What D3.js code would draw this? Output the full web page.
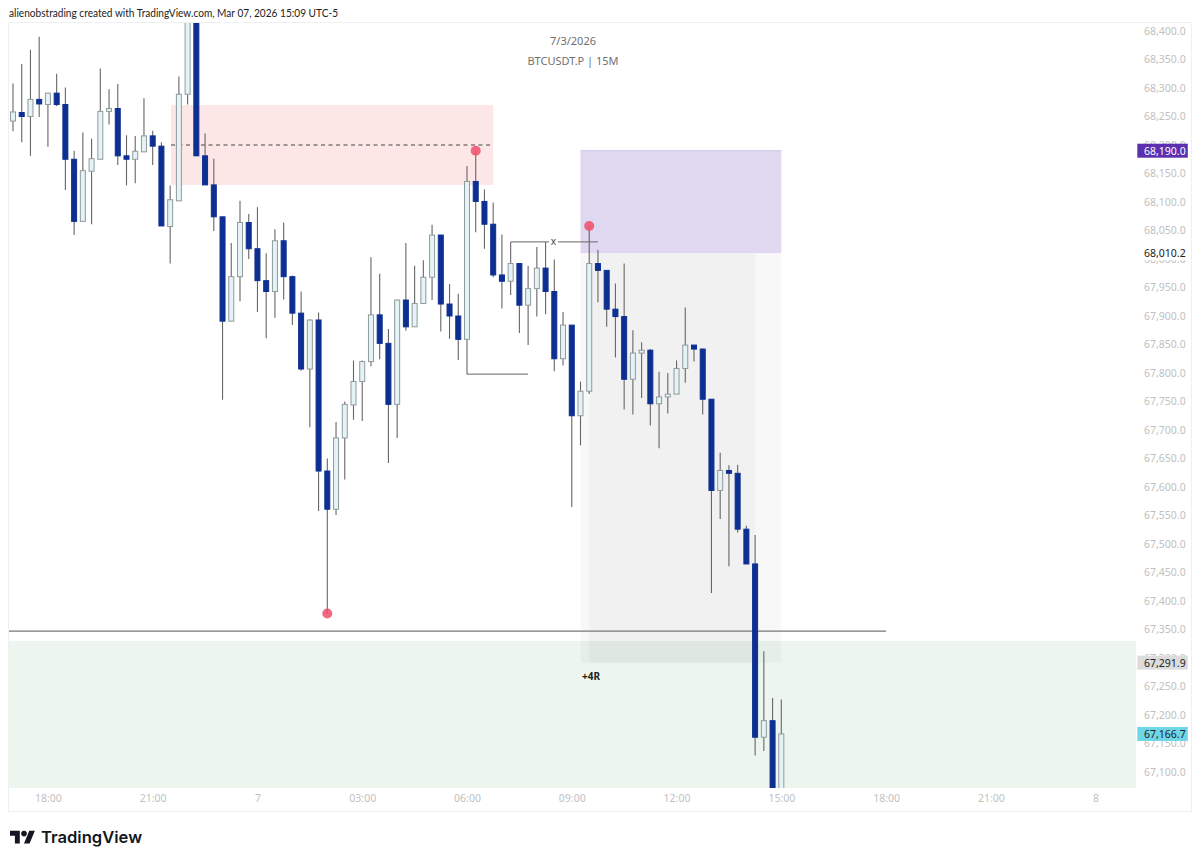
<!DOCTYPE html>
<html><head><meta charset="utf-8">
<script src="https://cdn.jsdelivr.net/npm/d3@7"></script>
<style>html,body{margin:0;padding:0;background:#fff}svg{display:block}</style></head>
<body><svg id="c" width="1200" height="862"></svg>
<script>
const opens =[68242,68257,68250,68280,68271,68291,68271,68175,68066,68154,68175,68259,68264,68181,68175,68188,68216,68198,68057,68102,68289,68470,68181,68130,68074,67891,67969,68064,68018,67962,67943,68032,67969,67905,67807,67893,67628,67561,67686,67744,67785,67820,67902,67852,67745,67928,67881,67922,67968,68042,67921,67900,67859,68136,68101,68061,67972,67961,67992,67919,67948,67984,67943,67825,67884,67725,67768,67992,67980,67912,67899,67789,67835,67840,67746,67758,67763,67808,67849,67842,67754,67594,67629,67624,67526,67465,67161,67190,67040];
const highs =[68308,68342,68367,68390,68291,68325,68301,68190,68222,68211,68334,68298,68307,68217,68216,68282,68225,68205,68129,68320,68500,68520,68220,68176,68074,68028,68102,68079,68091,68010,68052,68064,67971,67943,67894,67906,67650,67714,67750,67822,67822,68003,67974,67877,67929,68028,67988,67998,68060,68042,67956,67939,68163,68190,68122,68099,68043,68030,67992,67988,68021,68030,67999,67907,67884,67785,68058,68016,67980,67957,67992,67875,67854,67842,67802,67800,67822,67915,67849,67843,67754,67660,67638,67639,67532,67516,67312,67230,67227];
const lows  =[68224,68205,68181,68249,68197,68268,68121,68042,68066,68061,68175,68236,68165,68129,68133,68188,68165,68058,67992,68102,68271,68181,68130,68049,67753,67891,67926,68000,67907,67861,67897,67929,67884,67804,67705,67558,67378,67551,67613,67718,67716,67812,67824,67642,67686,67874,67881,67922,67928,67873,67860,67823,67798,68047,68018,67968,67913,67937,67870,67849,67899,67903,67803,67813,67565,67673,67763,67924,67881,67827,67736,67727,67756,67708,67668,67729,67763,67783,67820,67727,67414,67544,67461,67520,67465,67129,67137,67020,67020];
const closes=[68258,68250,68280,68272,68291,68271,68175,68066,68155,68176,68259,68264,68181,68175,68189,68216,68198,68058,68104,68289,68470,68181,68130,68074,67891,67969,68064,68018,67962,67943,68032,67969,67905,67807,67893,67628,67561,67686,67745,67785,67820,67902,67852,67745,67928,67881,67922,67968,68042,67921,67900,67859,68136,68101,68061,67972,67961,67992,67919,67948,67984,67943,67825,67884,67725,67768,67992,67980,67912,67899,67789,67835,67840,67746,67758,67763,67808,67849,67842,67754,67594,67629,67624,67526,67465,67161,67190,67040,67166.7];

const priceTicks=[68400,68350,68300,68250,68200,68150,68100,68050,68000,67950,67900,67850,67800,67750,67700,67650,67600,67550,67500,67450,67400,67350,67300,67250,67200,67150,67100];
const timeIndex=[4,16,28,40,52,64,76,88,100,112,124];
const timeLabels=["18:00","21:00","7","03:00","06:00","09:00","12:00","15:00","18:00","21:00","8"];

// price tags: value, label, background, text colour
const tagValues=[68190,68010.2,67291.9,67166.7];
const tagFills=["#5b2fb0","#ffffff","#dcdcdc","#6fd6e8"];
const tagInks=["#ffffff","#222222","#222222","#222222"];
const dotIndex=[36,53,66];
const dotPrice=[67378,68190,68058];

const W=1200,H=862,paneL=9,paneR=1136,paneT=23,paneB=788;
const x=d3.scaleLinear().domain([0,88]).range([13,781.3]);
const y=d3.scaleLinear().domain([67100,68400]).range([772,31]);
const svg=d3.select("#c");
const font='"Noto Sans",sans-serif';

svg.append("defs").append("clipPath").attr("id","pane").append("rect")
  .attr("x",paneL).attr("y",paneT).attr("width",paneR-paneL).attr("height",paneB-paneT);

// frame
svg.append("rect").attr("x",8.5).attr("y",22.5).attr("width",1183).attr("height",789)
  .attr("fill","none").attr("stroke","#f0f0f0");

const pane=svg.append("g").attr("clip-path","url(#pane)");

function zone(i0,i1,p0,p1,fill){
  pane.append("rect").attr("x",x(i0)).attr("width",x(i1)-x(i0))
    .attr("y",y(p0)).attr("height",y(p1)-y(p0)).attr("fill",fill);
}
zone(-1,129,67330,67000,"#edf6ee");             // demand zone
zone(18.1,55,68270,68130,"#fde6e6");            // supply zone
zone(65,88,68010.2,67291.9,"rgba(0,0,0,0.026)"); // position body
zone(66,85,68010.2,67291.9,"rgba(0,0,0,0.028)");
zone(65,88,68190,68010.2,"#e0d8f1");            // target zone
pane.append("line").attr("x1",x(65)).attr("x2",x(88)).attr("y1",y(68190)).attr("y2",y(68190))
  .attr("stroke","#cfc4e8").attr("stroke-width",1);

// dashed level
pane.append("line").attr("x1",x(18.1)).attr("x2",x(55)).attr("y1",y(68200)).attr("y2",y(68200))
  .attr("stroke","#444").attr("stroke-width",1).attr("stroke-dasharray","4 3.5");
// horizontal level
pane.append("line").attr("x1",paneL).attr("x2",x(100)).attr("y1",y(67347)).attr("y2",y(67347))
  .attr("stroke","#777").attr("stroke-width",1.2);

// candles
const idx=d3.range(opens.length);
pane.selectAll("line.w").data(idx).join("line").attr("class","w")
  .attr("x1",i=>x(i)).attr("x2",i=>x(i)).attr("y1",i=>y(highs[i])).attr("y2",i=>y(lows[i]))
  .attr("stroke","#666").attr("stroke-width",1.1);
pane.selectAll("rect.b").data(idx).join("rect").attr("class","b")
  .attr("x",i=>x(i)-2.5).attr("width",5)
  .attr("y",i=>y(Math.max(opens[i],closes[i])))
  .attr("height",i=>Math.max(1.5,Math.abs(y(opens[i])-y(closes[i]))))
  .attr("fill",i=>closes[i]>=opens[i]?"#e6f3f6":"#0e2f92")
  .attr("stroke",i=>closes[i]>=opens[i]?"#8f9a9c":"#0e2f92")
  .attr("stroke-width",1);

// annotation lines
pane.append("line").attr("x1",x(52)).attr("x2",x(59)).attr("y1",y(67798)).attr("y2",y(67798))
  .attr("stroke","#666").attr("stroke-width",1);
pane.append("line").attr("x1",x(57)).attr("x2",x(61.4)).attr("y1",y(68030)).attr("y2",y(68030))
  .attr("stroke","#666").attr("stroke-width",1);
pane.append("line").attr("x1",x(62.4)).attr("x2",x(67)).attr("y1",y(68030)).attr("y2",y(68030))
  .attr("stroke","#666").attr("stroke-width",1);
pane.append("text").attr("x",x(61.9)).attr("y",y(68030)+3).attr("text-anchor","middle")
  .attr("font-family",font).attr("font-size",10).attr("fill","#444").text("x");
pane.append("text").attr("x",x(66.2)).attr("y",y(67291.9)+17).attr("text-anchor","middle")
  .attr("font-family",font).attr("font-size",10).attr("font-weight",700).attr("fill","#222").text("+4R");

// pivot dots
pane.selectAll("circle").data(dotIndex).join("circle")
  .attr("cx",d=>x(d)).attr("cy",(d,i)=>y(dotPrice[i])).attr("r",5)
  .attr("fill","#ef4f6b").attr("fill-opacity",0.85);

// axes
const ax=d3.axisRight(y).tickValues(priceTicks).tickFormat(d3.format(",.1f")).tickSize(0).tickPadding(0);
const gy=svg.append("g").attr("transform","translate(1144,0)").call(ax);
gy.select(".domain").remove();
gy.selectAll("text").attr("font-family",font).attr("font-size",10.5).attr("fill","#bfbfbf");

const bx=d3.axisBottom(x).tickValues(timeIndex).tickFormat((d,i)=>timeLabels[i]).tickSize(0).tickPadding(0);
const gx=svg.append("g").attr("transform","translate(0,795)").call(bx);
gx.select(".domain").remove();
gx.selectAll("text").attr("font-family",font).attr("font-size",10.5).attr("fill","#bfbfbf");

// price tags
tagValues.forEach((v,i)=>{
  svg.append("rect").attr("x",1137.3).attr("width",50.5).attr("y",y(v)-7).attr("height",14).attr("fill",tagFills[i]);
  svg.append("text").attr("x",1144).attr("y",y(v)+4).attr("font-family",font).attr("font-size",10.5)
    .attr("fill",tagInks[i]).text(d3.format(",.1f")(v));
});

// header + captions
svg.append("text").attr("x",9).attr("y",17).attr("font-family",'Lato,sans-serif').attr("font-size",11.5).attr("fill","#222")
  .attr("textLength",329).attr("lengthAdjust","spacingAndGlyphs")
  .text("alienobstrading created with TradingView.com, Mar 07, 2026 15:09 UTC-5");
svg.append("text").attr("x",573).attr("y",45).attr("text-anchor","middle").attr("font-family",font)
  .attr("font-size",11).attr("fill","#6f6f6f").text("7/3/2026");
svg.append("text").attr("x",573).attr("y",65).attr("text-anchor","middle").attr("font-family",font)
  .attr("font-size",11).attr("fill","#6f6f6f").text("BTCUSDT.P | 15M");

// logo
const logo=svg.append("g").attr("transform","translate(10,828) scale(0.7)").attr("fill","#131722");
logo.append("path").attr("d","M14 22H7V11H0V4h14v18zM28 22h-8l7.5-18h8L28 22z");
logo.append("circle").attr("cx",20).attr("cy",8).attr("r",4);
svg.append("text").attr("x",41).attr("y",843).attr("font-family","Inter,sans-serif").attr("font-weight",600)
  .attr("font-size",16.6).attr("fill","#131722").text("TradingView");
</script></body></html>
